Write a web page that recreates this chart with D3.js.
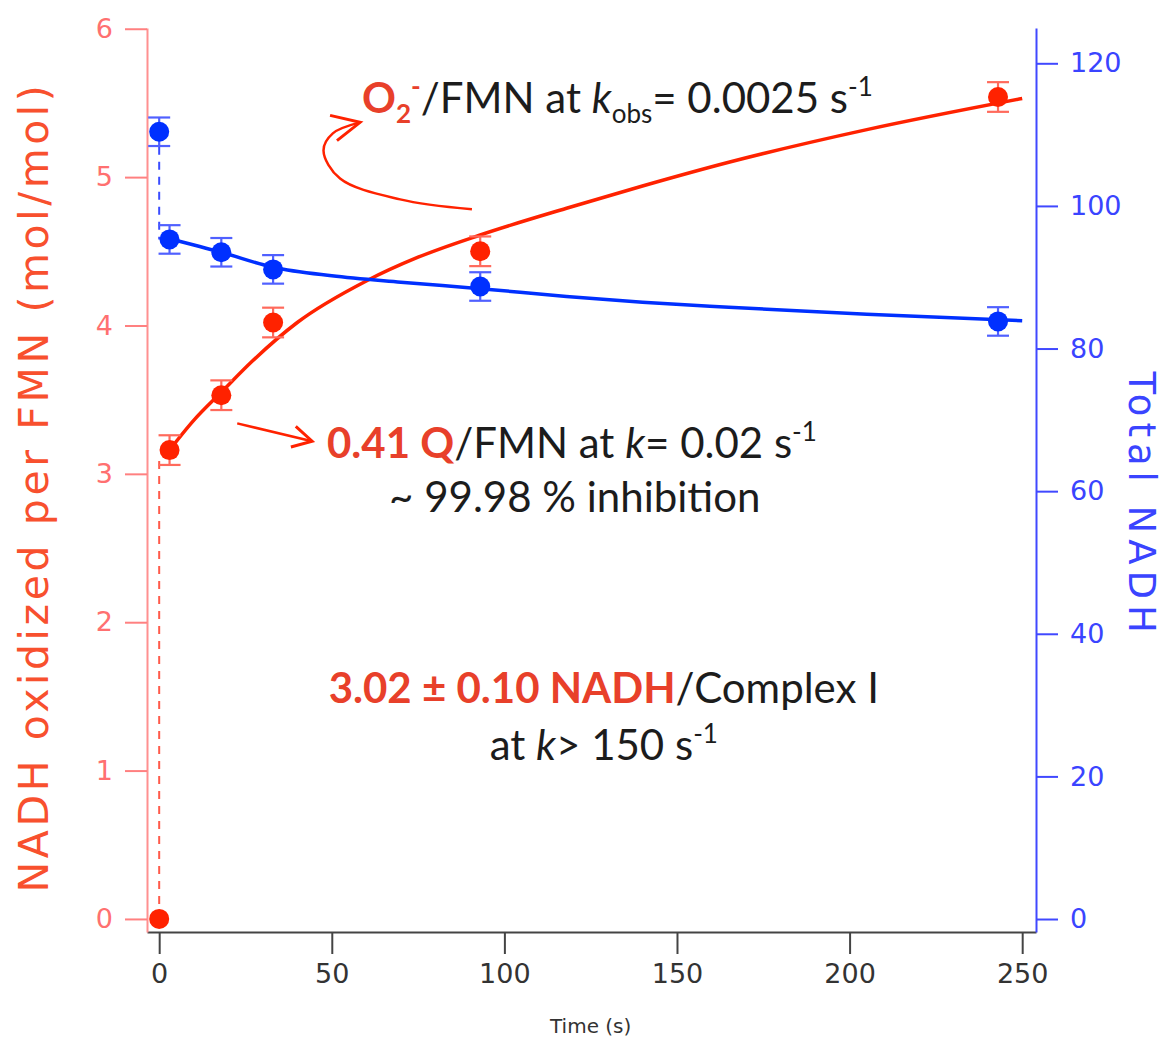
<!DOCTYPE html>
<html>
<head>
<meta charset="utf-8">
<script src="https://cdn.jsdelivr.net/npm/d3@7"></script>
<style>
  html, body { margin: 0; padding: 0; background: #fff; }
  svg { display: block; }
  .tick text { font-family: "DejaVu Sans", sans-serif; }
  .note { font-family: Lato, "Open Sans", sans-serif; }
</style>
</head>
<body>
<svg id="chart" width="1169" height="1044"></svg>
<script>
// Sampling times (s)
const times = [0, 3, 18, 33, 93, 243];
// NADH oxidized per FMN (mol/mol), left axis
const nadhPerFMN = [0, 3.16, 3.53, 4.02, 4.50, 5.54];
const nadhPerFMNErr = [0, 0.1, 0.1, 0.1, 0.1, 0.1];
// Total NADH, right axis
const totalNADH = [110.4, 95.3, 93.5, 91.1, 88.7, 83.8];
const totalNADHErr = [2, 2, 2, 2, 2, 2];

// Fitted curves, sampled along time
const fitTimes = [2, 10, 18, 27, 40, 60, 75, 93, 118, 140, 165, 205, 250];
const nadhFit = [3.13, 3.36, 3.55, 3.76, 4.02, 4.30, 4.46, 4.61, 4.79, 4.94, 5.10, 5.32, 5.53];
const totalFitTimes = [3, 18, 33, 50, 70, 93, 118, 140, 165, 205, 250];
const totalFit = [95.4, 93.5, 91.4, 90.2, 89.3, 88.4, 87.3, 86.5, 85.8, 84.8, 83.9];

// Axis ticks
const timeTicks = [0, 50, 100, 150, 200, 250];
const leftTicks = [0, 1, 2, 3, 4, 5, 6];
const rightTicks = [0, 20, 40, 60, 80, 100, 120];

const RED = "#ff2200", BLUE = "#0030ff";
const NOTE_RED = "#e8402a", NOTE_BLACK = "#1c1c1c";

const svg = d3.select("#chart");

const x = d3.scaleLinear().domain([-3.53, 254]).range([147, 1036]);
const yL = d3.scaleLinear().domain([-0.088, 6.005]).range([932, 28]);
const yR = d3.scaleLinear().domain([-1.82, 124.95]).range([932, 28]);

// ---- axes ----
const gx = svg.append("g").attr("transform", `translate(0,${yL.range()[0]})`)
  .call(d3.axisBottom(x).tickValues(timeTicks).tickFormat(d3.format("d"))
    .tickSize(22).tickSizeOuter(0).tickPadding(10));
gx.select(".domain").attr("stroke", "#444").attr("stroke-width", 2);
gx.selectAll(".tick line").attr("stroke", "#444").attr("stroke-width", 2);
gx.selectAll(".tick text").attr("fill", "#333").attr("font-size", 27);

const gl = svg.append("g").attr("transform", `translate(${x.range()[0]},0)`)
  .call(d3.axisLeft(yL).tickValues(leftTicks).tickFormat(d3.format("d"))
    .tickSize(22).tickSizeOuter(0).tickPadding(12));
gl.select(".domain").attr("stroke", "#ff9090").attr("stroke-width", 2);
gl.selectAll(".tick line").attr("stroke", "#ff8080").attr("stroke-width", 2);
gl.selectAll(".tick text").attr("fill", "#ff7070").attr("font-size", 27);

const gr = svg.append("g").attr("transform", `translate(${x.range()[1]},0)`)
  .call(d3.axisRight(yR).tickValues(rightTicks).tickFormat(d3.format("d"))
    .tickSize(22).tickSizeOuter(0).tickPadding(12));
gr.select(".domain").attr("stroke", "#4048ff").attr("stroke-width", 2);
gr.selectAll(".tick line").attr("stroke", "#4048ff").attr("stroke-width", 2);
gr.selectAll(".tick text").attr("fill", "#3a44ff").attr("font-size", 27);

// axis titles
svg.append("text")
  .attr("transform", `translate(37,${(yL.range()[0] + yL.range()[1]) / 2 + 7}) rotate(-90)`)
  .attr("text-anchor", "middle").attr("dominant-baseline", "middle")
  .attr("font-family", "DejaVu Sans, sans-serif").attr("font-size", 41)
  .attr("letter-spacing", 3.6)
  .attr("fill", "#f8502e")
  .text("NADH oxidized per FMN (mol/mol)");

svg.append("text")
  .attr("transform", `translate(1139,${yR(60) + 14}) rotate(90)`)
  .attr("text-anchor", "middle").attr("dominant-baseline", "middle")
  .attr("font-family", "DejaVu Sans, sans-serif").attr("font-size", 37)
  .attr("letter-spacing", 6)
  .attr("fill", "#3a44ff")
  .text("Total NADH");

svg.append("text")
  .attr("x", x(125)).attr("y", 1033)
  .attr("text-anchor", "middle")
  .attr("font-family", "DejaVu Sans, sans-serif").attr("font-size", 20)
  .attr("fill", "#333")
  .text("Time (s)");

// ---- dashed connectors from the t = 0 points ----
svg.append("line")
  .attr("x1", x(times[0])).attr("x2", x(times[0]))
  .attr("y1", yL(nadhPerFMN[0])).attr("y2", yL(nadhPerFMN[1]) + 8)
  .attr("stroke", "#ff5a4a").attr("stroke-width", 2).attr("stroke-dasharray", "8,7");
svg.append("line")
  .attr("x1", x(times[0])).attr("x2", x(times[0]))
  .attr("y1", yR(totalNADH[0])).attr("y2", yR(totalNADH[1]))
  .attr("stroke", "#3a4cff").attr("stroke-width", 2).attr("stroke-dasharray", "8,7");

// ---- fitted curves ----
svg.append("path")
  .datum(fitTimes.map((t, i) => [t, nadhFit[i]]))
  .attr("fill", "none").attr("stroke", RED).attr("stroke-width", 3.5)
  .attr("d", d3.line().x(d => x(d[0])).y(d => yL(d[1])).curve(d3.curveMonotoneX));

svg.append("path")
  .datum(totalFitTimes.map((t, i) => [t, totalFit[i]]))
  .attr("fill", "none").attr("stroke", BLUE).attr("stroke-width", 3.5)
  .attr("d", d3.line().x(d => x(d[0])).y(d => yR(d[1])).curve(d3.curveMonotoneX));

// ---- error bars + markers ----
function drawSeries(vals, errs, yScale, col, barCol) {
  const g = svg.append("g");
  const pts = times.map((t, i) => ({ t, v: vals[i], e: errs[i] }));
  const eb = g.selectAll("g.eb").data(pts.filter(d => d.e > 0)).join("g")
    .attr("stroke", barCol).attr("stroke-width", 2.2);
  eb.append("line")
    .attr("x1", d => x(d.t)).attr("x2", d => x(d.t))
    .attr("y1", d => yScale(d.v - d.e)).attr("y2", d => yScale(d.v + d.e));
  [-1, 1].forEach(s => {
    eb.append("line")
      .attr("x1", d => x(d.t) - 11).attr("x2", d => x(d.t) + 11)
      .attr("y1", d => yScale(d.v + s * d.e)).attr("y2", d => yScale(d.v + s * d.e));
  });
  g.selectAll("circle").data(pts).join("circle")
    .attr("cx", d => x(d.t)).attr("cy", d => yScale(d.v))
    .attr("r", 10).attr("fill", col);
}
drawSeries(nadhPerFMN, nadhPerFMNErr, yL, RED, "#ff6a5c");
drawSeries(totalNADH, totalNADHErr, yR, BLUE, "#5060ff");

// ---- annotations ----
const dataLine = d3.line().x(d => x(d[0])).y(d => yL(d[1]));

// curved arrow pointing to the superoxide label
const curvedArrow = [[90.6, 4.783], [69.8, 4.85], [52.4, 4.99], [47.6, 5.18], [50.3, 5.295], [58.2, 5.369]];
svg.append("path")
  .attr("fill", "none").attr("stroke", RED).attr("stroke-width", 2.5)
  .attr("d", d3.line().x(d => x(d[0])).y(d => yL(d[1])).curve(d3.curveCatmullRom)(curvedArrow));
svg.append("path")
  .attr("fill", "none").attr("stroke", RED).attr("stroke-width", 3)
  .attr("d", dataLine([[49.5, 5.416], [58.2, 5.369], [51.5, 5.246]]));

// straight arrow pointing to the quinone label
const straight = [[22.6, 3.34], [44.3, 3.22]];
svg.append("path")
  .attr("fill", "none").attr("stroke", RED).attr("stroke-width", 2.5)
  .attr("d", dataLine(straight));
(function head() {
  const [a, b] = straight;
  const x1 = x(a[0]), y1 = yL(a[1]), x2 = x(b[0]), y2 = yL(b[1]);
  const ang = Math.atan2(y2 - y1, x2 - x1), L = 22, w = 0.5;
  const p = [[x2 - L * Math.cos(ang - w), y2 - L * Math.sin(ang - w)], [x2, y2],
             [x2 - L * Math.cos(ang + w), y2 - L * Math.sin(ang + w)]];
  svg.append("path").attr("fill", "none").attr("stroke", RED).attr("stroke-width", 3)
    .attr("d", d3.line()(p));
})();

const FS = 42, SM = FS * 0.62, SUP = -0.42 * FS, SUB = 0.24 * FS;
function note(tx, ty, anchor) {
  return svg.append("text").attr("class", "note")
    .attr("x", x(tx)).attr("y", yL(ty))
    .attr("text-anchor", anchor).attr("font-size", FS).attr("fill", NOTE_BLACK);
}
function supMinusOne(t) {
  t.append("tspan").attr("dy", SUP).attr("font-size", SM).text("-1");
}

// superoxide / FMN
{
  const t = note(58.75, 5.43, "start");
  t.append("tspan").attr("fill", NOTE_RED).attr("font-weight", "bold").text("O");
  t.append("tspan").attr("fill", NOTE_RED).attr("font-weight", "bold").attr("dy", SUB).attr("font-size", SM).text("2");
  t.append("tspan").attr("fill", NOTE_RED).attr("font-weight", "bold").attr("dy", SUP - SUB).attr("font-size", SM).text("-");
  t.append("tspan").attr("dy", -SUP).text("/FMN at ");
  t.append("tspan").attr("font-style", "italic").text("k");
  t.append("tspan").attr("dy", SUB).attr("font-size", SM).text("obs");
  t.append("tspan").attr("dy", -SUB).text("= 0.0025 s");
  supMinusOne(t);
}
// quinone
{
  const t = note(48.6, 3.105, "start");
  t.append("tspan").attr("fill", NOTE_RED).attr("font-weight", "bold").text("0.41 Q");
  t.append("tspan").text("/FMN at ");
  t.append("tspan").attr("font-style", "italic").text("k");
  t.append("tspan").text("= 0.02 s");
  supMinusOne(t);
  note(120.4, 2.74, "middle").text("~ 99.98 % inhibition");
}
// burst stoichiometry
{
  const t = note(128.8, 1.455, "middle");
  t.append("tspan").attr("fill", NOTE_RED).attr("font-weight", "bold").text("3.02 ± 0.10 NADH");
  t.append("tspan").text("/Complex I");
  const u = note(128.8, 1.07, "middle");
  u.append("tspan").text("at ");
  u.append("tspan").attr("font-style", "italic").text("k");
  u.append("tspan").text("> 150 s");
  supMinusOne(u);
}
</script>
</body>
</html>
